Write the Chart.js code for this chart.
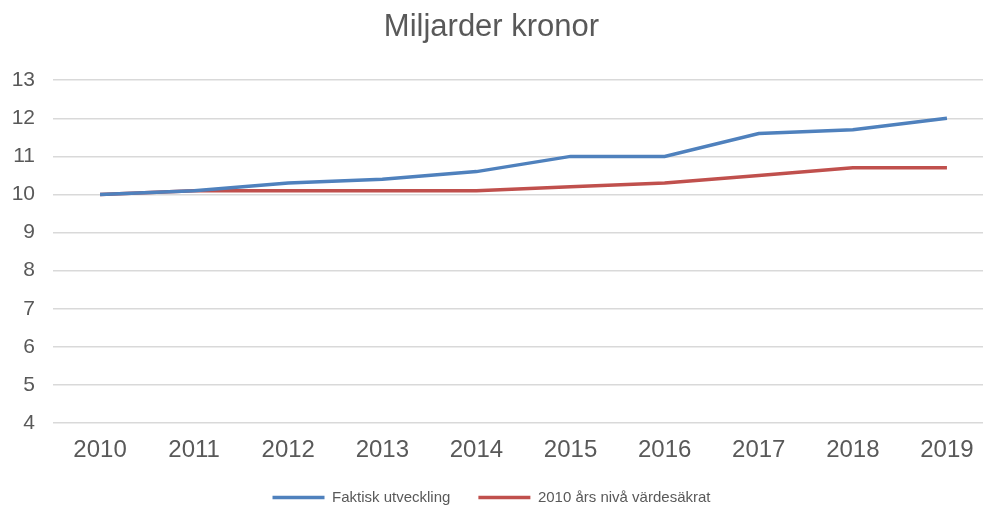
<!doctype html>
<html>
  <head>
    <script src="https://cdnjs.cloudflare.com/ajax/libs/Chart.js/4.4.0/chart.umd.js"></script>
    <style>
      body { margin: 0; background: #fff; }
    </style>
    <script>
      let years = ["2010", "2011", "2012", "2013", "2014", "2015", "2016", "2017", "2018", "2019"];
      let faktisk = [10, 10.1, 10.3, 10.4, 10.6, 11, 11, 11.6, 11.7, 12];
      let vardesakrat = [10, 10.1, 10.1, 10.1, 10.1, 10.2, 10.3, 10.5, 10.7, 10.7];
      let seriesNames = ["Faktisk utveckling", "2010 års nivå värdesäkrat"];

      // let the category axis run a little past the right edge, like the original
      let stretchX = {
        id: "stretchX",
        afterLayout: function (chart) {
          let sx = chart.scales.x;
          sx.right = 994;
          sx.width = sx.right - sx.left;
          sx.configure();
        }
      };

      let chart1;
      function startPage() {
        Chart.defaults.font.family = "Liberation Sans, Arial, sans-serif";
        Chart.defaults.color = "#595959";
        chart1 = new Chart(document.getElementById("c1"), {
          type: "line",
          data: {
            labels: years,
            datasets: [
              { label: seriesNames[0], data: faktisk, borderColor: "#4f81bd", backgroundColor: "#4f81bd", borderWidth: 3.5, pointRadius: 0, tension: 0 },
              { label: seriesNames[1], data: vardesakrat, borderColor: "#c0504d", backgroundColor: "#c0504d", borderWidth: 3.5, pointRadius: 0, tension: 0 }
            ]
          },
          plugins: [stretchX],
          options: {
            responsive: false,
            animation: false,
            layout: { padding: { left: 0, right: 1, top: 0, bottom: 0 } },
            plugins: {
              title: {
                display: true,
                text: "Miljarder kronor",
                font: { size: 31, weight: "normal" },
                color: "#595959",
                padding: { top: 9, bottom: 34 }
              },
              legend: {
                position: "bottom",
                maxHeight: 44,
                labels: {
                  usePointStyle: true,
                  pointStyle: "line",
                  pointStyleWidth: 52,
                  boxHeight: 6,
                  padding: 28,
                  font: { size: 15 },
                  color: "#595959"
                }
              },
              tooltip: { enabled: false }
            },
            scales: {
              x: {
                offset: true,
                grid: { display: false },
                border: { display: false },
                ticks: { font: { size: 24 }, color: "#595959", padding: 5 },
                afterFit: function (s) { s.height = 39; }
              },
              y: {
                min: 4,
                max: 13,
                border: { display: false },
                grid: { color: "#d9d9d9", lineWidth: 1.5, drawTicks: false },
                ticks: { stepSize: 1, font: { size: 21 }, color: "#595959", padding: 18 },
                afterFit: function (s) { s.width = 53; }
              }
            }
          }
        });
      }
    </script>
  </head>
  <body onload="startPage()">
    <canvas id="c1" width="984" height="506"></canvas>
  </body>
</html>
